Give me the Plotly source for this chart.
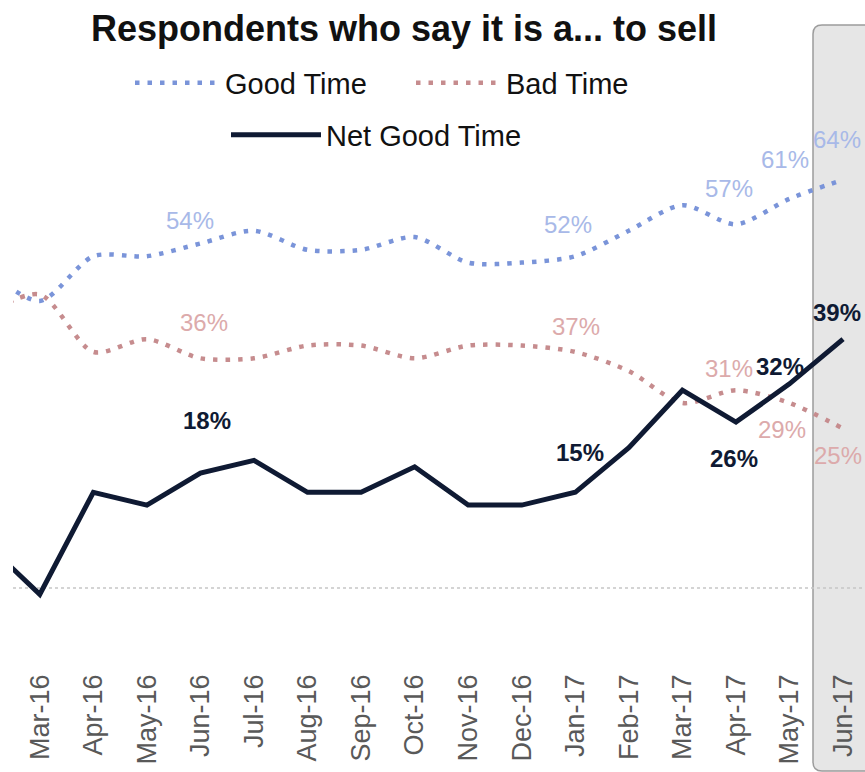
import plotly.graph_objects as go

months = ["Feb-16", "Mar-16", "Apr-16", "May-16", "Jun-16", "Jul-16", "Aug-16", "Sep-16",
          "Oct-16", "Nov-16", "Dec-16", "Jan-17", "Feb-17", "Mar-17", "Apr-17", "May-17", "Jun-17"]
good_time = [50, 45, 52, 52, 54, 56, 53, 53, 55, 51, 51, 52, 56, 60, 57, 61, 64]
bad_time = [43, 46, 37, 39, 36, 36, 38, 38, 36, 38, 38, 37, 34, 29, 31, 29, 25]
net_good = [7, -1, 15, 13, 18, 20, 15, 15, 19, 13, 13, 15, 22, 31, 26, 32, 39]

# labelled points: (series, month, xshift, yshift)
labels = [
    ("good", "Jun-16", -10, 23), ("good", "Jan-17", -7, 32), ("good", "Apr-17", -7, 36),
    ("good", "May-17", -4, 39), ("good", "Jun-17", -6, 40),
    ("bad", "Jun-16", 4, 36), ("bad", "Jan-17", 1, 25), ("bad", "Apr-17", -7, 22),
    ("bad", "May-17", -7, -27), ("bad", "Jun-17", -5, -27),
    ("net", "Jun-16", 7, 53), ("net", "Jan-17", 5, 40), ("net", "Apr-17", -2, -36),
    ("net", "May-17", -9, 17), ("net", "Jun-17", -6, 27),
]

C_GOOD, C_GOOD_T = "#7a94d9", "#a8b9e8"
C_BAD, C_BAD_T = "#c68c8e", "#dcaaab"
C_NET = "#0f1a33"
FONT = "Liberation Sans, Arial, sans-serif"

x = list(range(len(months)))
series = {"good": good_time, "bad": bad_time, "net": net_good}

fig = go.Figure()
fig.add_trace(go.Scatter(x=x, y=good_time, mode="lines", name="Good Time",
                         line=dict(color=C_GOOD, width=4.5, dash="4.5px,8px", shape="spline", smoothing=0.8),
                         legend="legend"))
fig.add_trace(go.Scatter(x=x, y=bad_time, mode="lines", name="Bad Time",
                         line=dict(color=C_BAD, width=4.5, dash="4.5px,8px", shape="spline", smoothing=0.8),
                         legend="legend"))
fig.add_trace(go.Scatter(x=x, y=net_good, mode="lines", name="Net Good Time",
                         line=dict(color=C_NET, width=5), legend="legend2"))

for s, m, dx, dy in labels:
    i = months.index(m)
    v = series[s][i]
    if s == "good":
        font = dict(family=FONT, size=24, color=C_GOOD_T)
        txt = f"{v}%"
    elif s == "bad":
        font = dict(family=FONT, size=24, color=C_BAD_T)
        txt = f"{v}%"
    else:
        font = dict(family=FONT, size=24, color=C_NET)
        txt = f"<b>{v}%</b>"
    fig.add_annotation(x=i, y=v, text=txt, showarrow=False, xshift=dx, yshift=dy,
                       font=font, xanchor="center", yanchor="middle")

W, H = 865, 772
ml, mr, mt, mb = 13, 0, 0, 104
pw, ph = W - ml - mr, H - mt - mb
# shaded current-month panel (rounded left corners), in paper coords
x0 = (813 - ml) / pw
x1 = 1.05
yt = (ph - 25) / ph
yb = (ph - 771) / ph
rx, ry = 9 / pw, 9 / ph
path = (f"M{x1},{yb} L{x0 + rx},{yb} Q{x0},{yb} {x0},{yb + ry} "
        f"L{x0},{yt - ry} Q{x0},{yt} {x0 + rx},{yt} L{x1},{yt} Z")
fig.add_shape(type="path", path=path, xref="paper", yref="paper", layer="below",
              fillcolor="#e6e6e6", line=dict(color="#9c9c9c", width=1.5))
fig.add_shape(type="line", xref="paper", x0=0, x1=1, yref="y", y0=0, y1=0, layer="below",
              line=dict(color="#c6c6c6", width=1.5, dash="dot"))

ppu = 6.38
zero_px = 588
fig.update_layout(
    width=W, height=H,
    margin=dict(l=ml, r=mr, t=mt, b=mb, autoexpand=False),
    paper_bgcolor="white", plot_bgcolor="white",
    title=dict(text="<b>Respondents who say it is a... to sell</b>", x=404 / W, xref="container",
               xanchor="center", y=1 - 28 / H, yref="container", yanchor="middle",
               font=dict(family=FONT, size=36, color="#111111")),
    legend=dict(orientation="h", x=(130 - ml) / pw, xanchor="left",
                y=(ph - 83) / ph, yanchor="middle",
                font=dict(family=FONT, size=29, color="#111111"), itemwidth=85,
                entrywidth=181, bgcolor="rgba(0,0,0,0)"),
    legend2=dict(orientation="h", x=(226 - ml) / pw, xanchor="left",
                 y=(ph - 135) / ph, yanchor="middle",
                 font=dict(family=FONT, size=29, color="#111111"), itemwidth=90,
                 bgcolor="rgba(0,0,0,0)"),
    xaxis=dict(range=[0.5, 16.41], tickmode="array", tickvals=x, ticktext=months,
               tickangle=-90, tickfont=dict(family=FONT, size=27, color="#595959"),
               showgrid=False, zeroline=False, showline=False, ticks="", automargin=False),
    yaxis=dict(range=[(zero_px - (H - mb)) / ppu, zero_px / ppu], visible=False),
)

fig.write_html("out.html", config={"displayModeBar": False},
               post_script="document.body.style.margin='0px';")
